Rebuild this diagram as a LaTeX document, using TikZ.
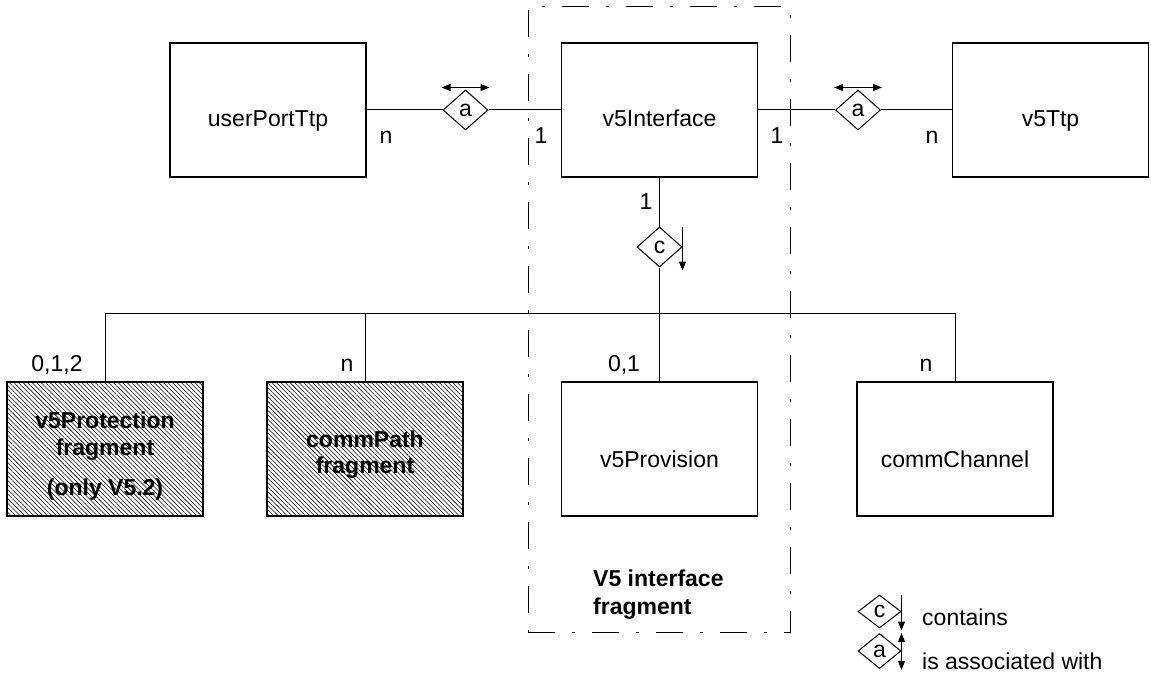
\documentclass[tikz,border=0pt]{standalone}
\usepackage{fontspec}
\setmainfont{Liberation Sans}
\usetikzlibrary{shapes.geometric,arrows.meta,patterns.meta}
\begin{document}
\begin{tikzpicture}[x=1pt,y=-1pt,
  font=\fontsize{23}{28}\selectfont,
  box/.style={draw, line width=1.2pt, minimum width=196pt, minimum height=134pt, inner sep=0pt},
  hatchbox/.style={box, pattern={Lines[angle=-45,distance=3.2pt,line width=0.55pt]}},
  rel/.style={draw, diamond, line width=1pt, minimum width=45pt, minimum height=40pt, inner sep=0pt},
  conn/.style={line width=1pt},
  arr/.style={line width=1pt, -{Triangle[length=9pt,width=7pt]}},
  darr/.style={line width=1pt, {Triangle[length=9pt,width=7pt]}-{Triangle[length=9pt,width=7pt]}},
  lab/.style={anchor=base, inner sep=0pt},
  boldlab/.style={lab, font=\fontsize{23}{28}\selectfont\bfseries},
  frag/.style={draw, line width=1pt, dash pattern=on 27pt off 17pt on 3pt off 17pt}]
\useasboundingbox (0,0) rectangle (1151,690);

% fragment boundary
\node[frag, minimum width=262pt, minimum height=625pt, inner sep=0pt] (frag) at (659,319.5) {};

% upper boxes
\node[box] (upt) at (268,110) {};
\node[lab] (uptT) at (268,127) {userPortTtp};
\node[box] (v5i) at (659.5,110) {};
\node[lab] (v5iT) at (659.5,127) {v5Interface};
\node[box] (v5t) at (1050.5,110) {};
\node[lab] (v5tT) at (1050.5,127) {v5Ttp};

% lower boxes
\node[hatchbox] (prot) at (105,449) {};
\node[boldlab] (protT1) at (105,428) {v5Protection};
\node[boldlab] (protT2) at (105,455) {fragment};
\node[boldlab] (protT3) at (105,495) {(only V5.2)};
\node[hatchbox] (cpath) at (365,449) {};
\node[boldlab] (cpathT1) at (365,447) {commPath};
\node[boldlab] (cpathT2) at (365,473) {fragment};
\node[box] (prov) at (659.5,449) {};
\node[lab] (provT) at (659.5,467) {v5Provision};
\node[box] (cch) at (955,449) {};
\node[lab] (cchT) at (955,467) {commChannel};

% relationship diamonds
\node[rel] (a1) at (465.5,110) {\raisebox{-3pt}{a}};
\node[rel] (a2) at (858,110) {\raisebox{-3pt}{a}};
\node[rel, minimum width=45pt] (c) at (659.5,247) {\raisebox{-5pt}{c}};

% connectors
\draw[conn] (upt.east) -- (a1.west);
\draw[conn] (a1.east) -- (v5i.west);
\draw[conn] (v5i.east) -- (a2.west);
\draw[conn] (a2.east) -- (v5t.west);
\draw[conn] (v5i.south) -- (c.north);
\coordinate (bP) at (prot.north |- 0,313);
\coordinate (bC) at (cpath.north |- 0,313);
\coordinate (bV) at (c.south |- 0,313);
\coordinate (bH) at (cch.north |- 0,313);
\draw[conn] (c.south) -- (bV);
\draw[conn] (bP) -- (bH);
\draw[conn] (bP) -- (prot.north);
\draw[conn] (bC) -- (cpath.north);
\draw[conn] (bV) -- (prov.north);
\draw[conn] (bH) -- (cch.north);

% direction arrows
\draw[darr] ([xshift=-24pt,yshift=2pt]a1.north) -- ([xshift=24pt,yshift=2pt]a1.north);
\draw[darr] ([xshift=-24pt,yshift=2pt]a2.north) -- ([xshift=24pt,yshift=2pt]a2.north);
\draw[arr] (c.east |- c.north) -- ([yshift=-3pt]c.east |- c.south);

% cardinalities
\node[lab] (n1) at (386,143) {n};
\node[lab] (o1) at (541,143) {1};
\node[lab] (o2) at (777,143) {1};
\node[lab] (n2) at (932,143) {n};
\node[lab] (o3) at (646,209) {1};
\node[lab] (m1) at (57,371) {0,1,2};
\node[lab] (n3) at (347,371) {n};
\node[lab] (m2) at (624,371) {0,1};
\node[lab] (n4) at (926,371) {n};

% fragment label
\node[boldlab, anchor=base west] (fragT1) at (593,586) {V5 interface};
\node[boldlab, anchor=base west] (fragT2) at (593,614) {fragment};

% legend
\node[rel, minimum width=43pt, minimum height=33pt] (lc) at (879.5,611.5) {c};
\node[rel, minimum width=43pt, minimum height=35pt] (la) at (879.5,651) {a};
\draw[arr] (lc.east |- lc.north) -- ([yshift=-2pt]lc.east |- lc.south);
\draw[darr] (la.east |- la.north) -- ([yshift=-1pt]la.east |- la.south);
\node[lab, anchor=base west] (tc) at (922,625) {contains};
\node[lab, anchor=base west] (ta) at (922,669) {is associated with};
\end{tikzpicture}
\end{document}
